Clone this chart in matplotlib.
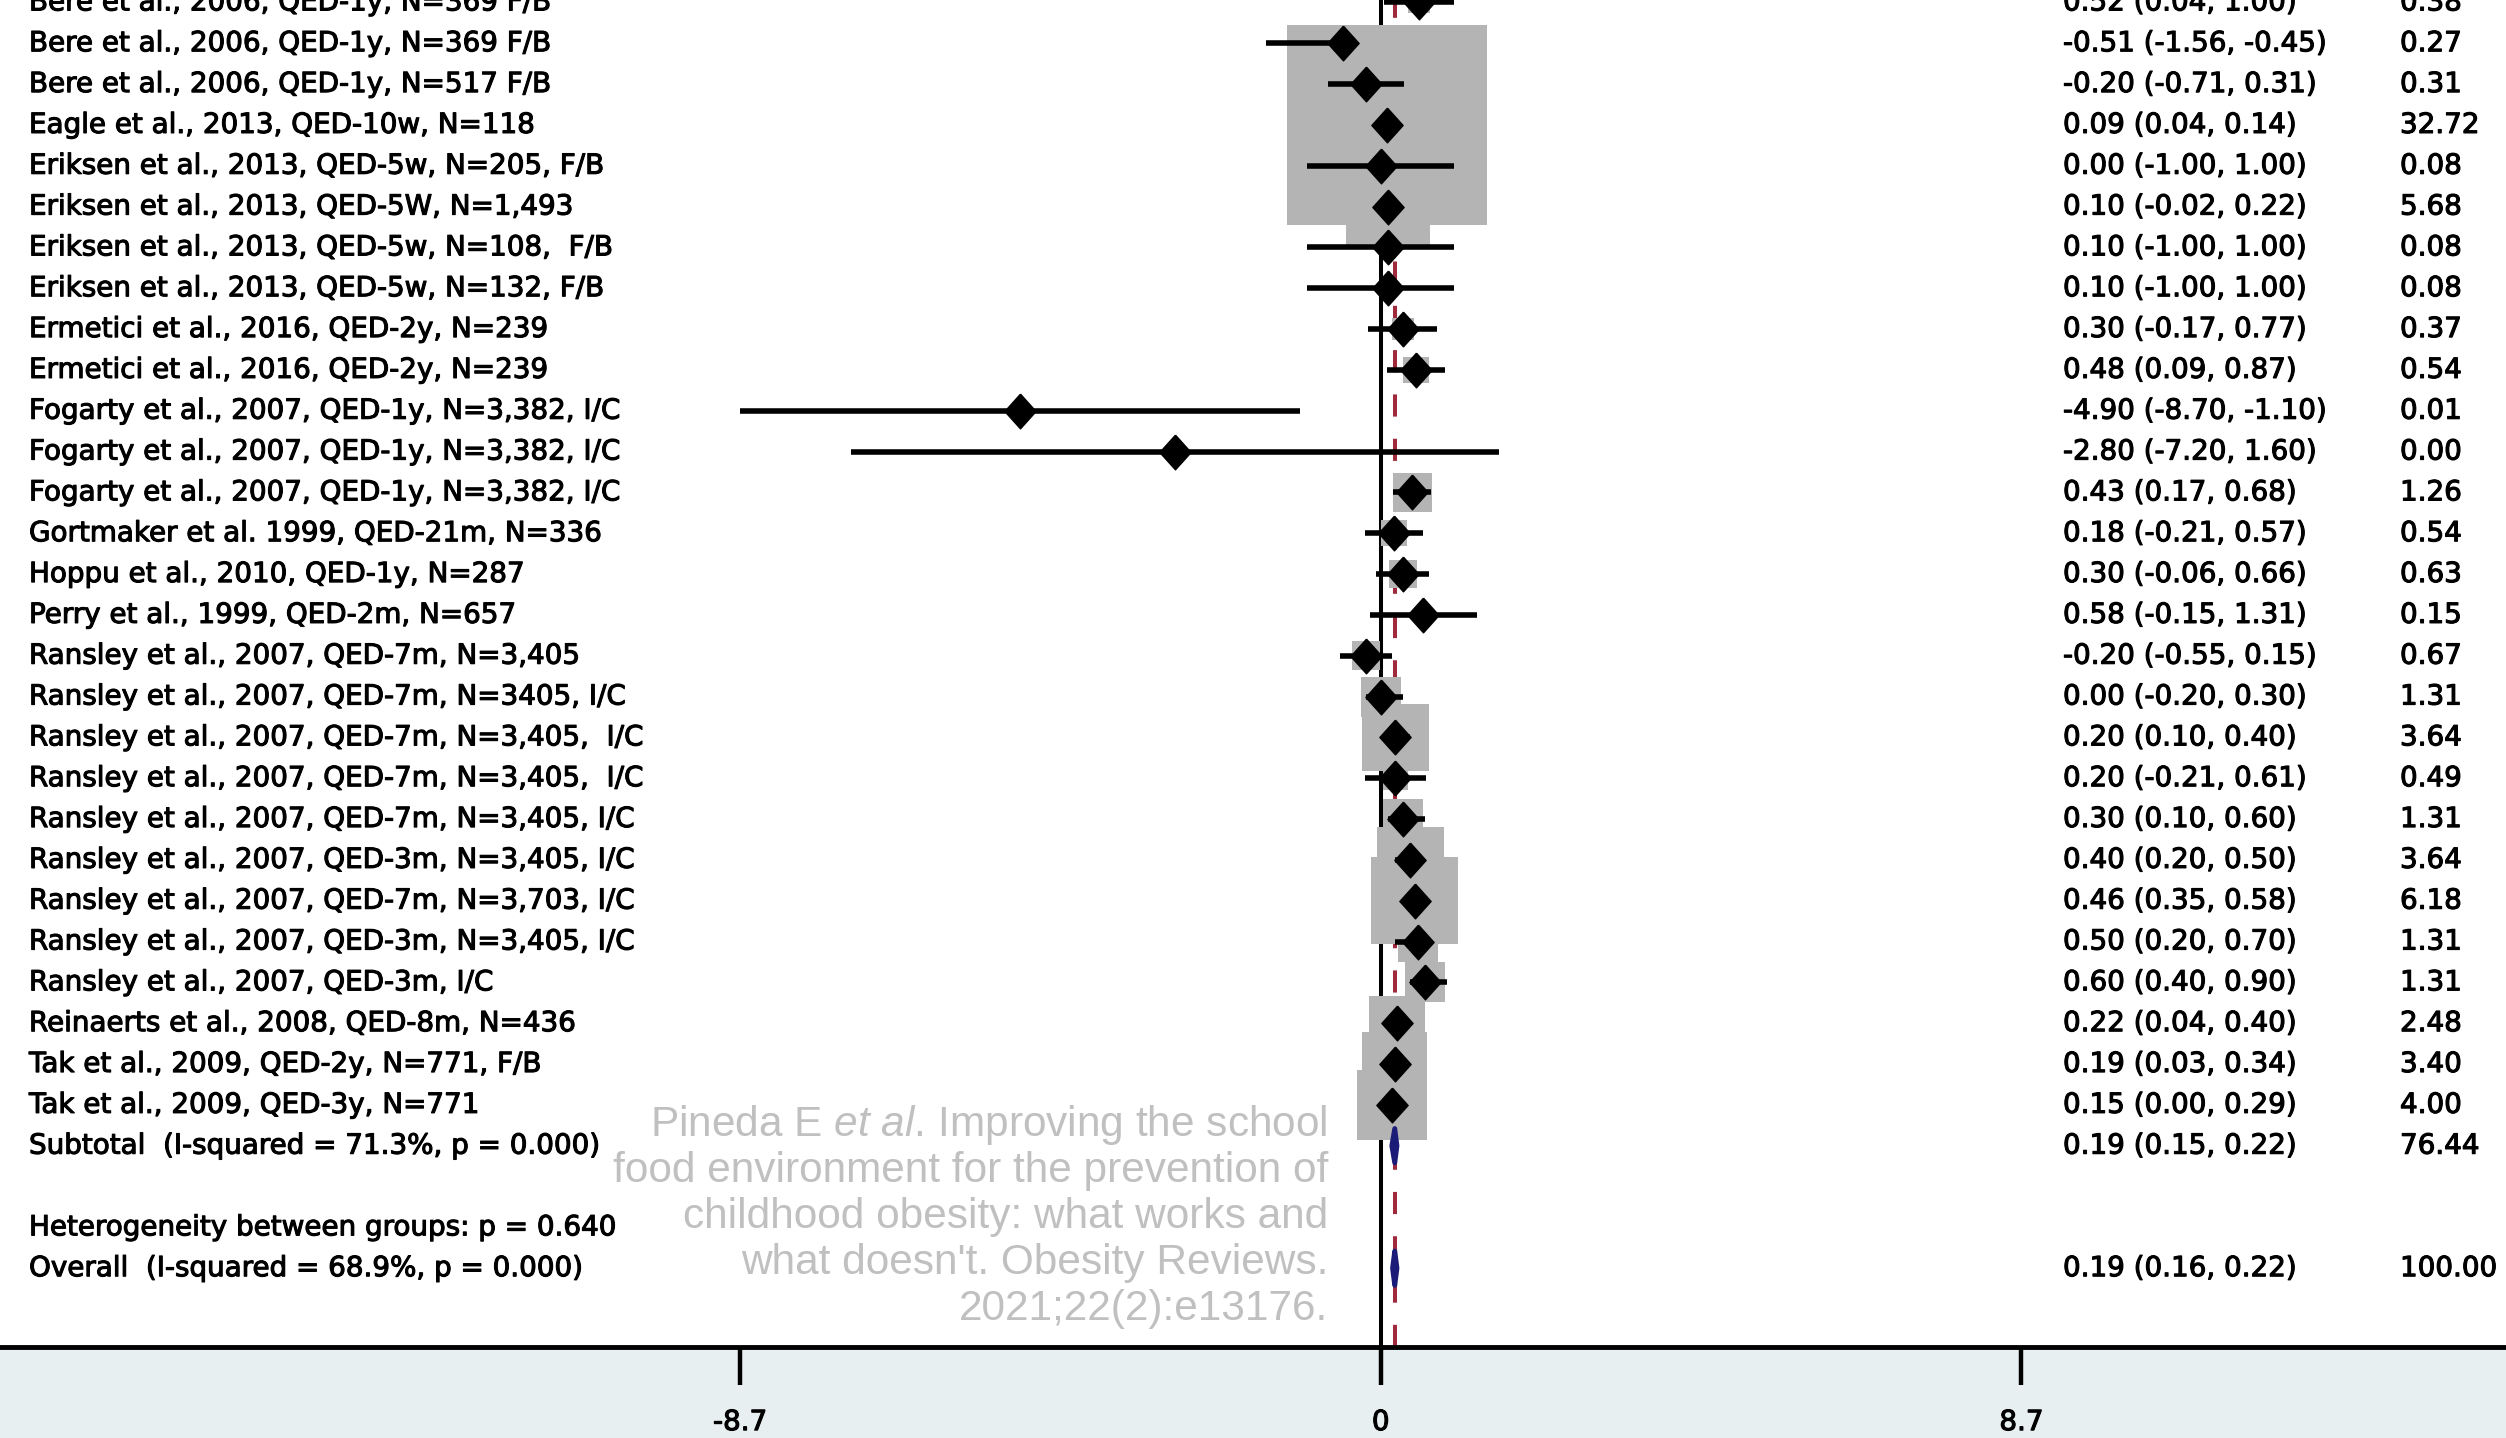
import matplotlib.pyplot as plt
import matplotlib.patheffects as pe
import numpy as np

plt.rcParams['font.family'] = ['DejaVu Sans']
plt.rcParams['mathtext.fontset'] = 'custom'
plt.rcParams['mathtext.rm'] = 'Liberation Sans'
plt.rcParams['mathtext.it'] = 'Liberation Sans:italic'

# study rows (top of the forest plot is cut off in the source picture)
studies = [
    "Bere et al., 2006, QED-1y, N=369 F/B",
    "Bere et al., 2006, QED-1y, N=369 F/B",
    "Bere et al., 2006, QED-1y, N=517 F/B",
    "Eagle et al., 2013, QED-10w, N=118",
    "Eriksen et al., 2013, QED-5w, N=205, F/B",
    "Eriksen et al., 2013, QED-5W, N=1,493",
    "Eriksen et al., 2013, QED-5w, N=108,  F/B",
    "Eriksen et al., 2013, QED-5w, N=132, F/B",
    "Ermetici et al., 2016, QED-2y, N=239",
    "Ermetici et al., 2016, QED-2y, N=239",
    "Fogarty et al., 2007, QED-1y, N=3,382, I/C",
    "Fogarty et al., 2007, QED-1y, N=3,382, I/C",
    "Fogarty et al., 2007, QED-1y, N=3,382, I/C",
    "Gortmaker et al. 1999, QED-21m, N=336",
    "Hoppu et al., 2010, QED-1y, N=287",
    "Perry et al., 1999, QED-2m, N=657",
    "Ransley et al., 2007, QED-7m, N=3,405",
    "Ransley et al., 2007, QED-7m, N=3405, I/C",
    "Ransley et al., 2007, QED-7m, N=3,405,  I/C",
    "Ransley et al., 2007, QED-7m, N=3,405,  I/C",
    "Ransley et al., 2007, QED-7m, N=3,405, I/C",
    "Ransley et al., 2007, QED-3m, N=3,405, I/C",
    "Ransley et al., 2007, QED-7m, N=3,703, I/C",
    "Ransley et al., 2007, QED-3m, N=3,405, I/C",
    "Ransley et al., 2007, QED-3m, I/C",
    "Reinaerts et al., 2008, QED-8m, N=436",
    "Tak et al., 2009, QED-2y, N=771, F/B",
    "Tak et al., 2009, QED-3y, N=771",
]
es = [0.52, -0.51, -0.20, 0.09, 0.00, 0.10, 0.10, 0.10, 0.30, 0.48,
      -4.90, -2.80, 0.43, 0.18, 0.30, 0.58, -0.20, 0.00, 0.20, 0.20,
      0.30, 0.40, 0.46, 0.50, 0.60, 0.22, 0.19, 0.15]
lo = [0.04, -1.56, -0.71, 0.04, -1.00, -0.02, -1.00, -1.00, -0.17, 0.09,
      -8.70, -7.20, 0.17, -0.21, -0.06, -0.15, -0.55, -0.20, 0.10, -0.21,
      0.10, 0.20, 0.35, 0.20, 0.40, 0.04, 0.03, 0.00]
hi = [1.00, -0.45, 0.31, 0.14, 1.00, 0.22, 1.00, 1.00, 0.77, 0.87,
      -1.10, 1.60, 0.68, 0.57, 0.66, 1.31, 0.15, 0.30, 0.40, 0.61,
      0.60, 0.50, 0.58, 0.70, 0.90, 0.40, 0.34, 0.29]
weights = [0.38, 0.27, 0.31, 32.72, 0.08, 5.68, 0.08, 0.08, 0.37, 0.54,
           0.01, 0.00, 1.26, 0.54, 0.63, 0.15, 0.67, 1.31, 3.64, 0.49,
           1.31, 3.64, 6.18, 1.31, 1.31, 2.48, 3.40, 4.00]

# pooled estimates
pooled_labels = ["Subtotal  (I-squared = 71.3%, p = 0.000)",
                 "Overall  (I-squared = 68.9%, p = 0.000)"]
pooled_es = [0.19, 0.19]
pooled_lo = [0.15, 0.16]
pooled_hi = [0.22, 0.22]
pooled_w = [76.44, 100.00]
heterogeneity = "Heterogeneity between groups: p = 0.640"

xticks = [-8.7, 0, 8.7]
xtick_labels = ["-8.7", "0", "8.7"]

citation = ["Pineda E $\\it{et\\ al}$. Improving the school",
            "food environment for the prevention of",
            "childhood obesity: what works and",
            "what doesn't. Obesity Reviews.",
            "2021;22(2):e13176."]

W, H = 2506, 1438
fig = plt.figure(figsize=(W / 100, H / 100), dpi=100, facecolor='#e8eff1')
ax = fig.add_axes([0, 91 / H, 1, 1347 / H])
ax.set_facecolor('white')
ax.set_xlim(-18.75, 15.28)
ax.set_ylim(32.93, -0.06)

rows = np.arange(len(studies))
pooled_rows = [len(studies), len(studies) + 3]

# reference lines
ax.axvline(0, color='black', lw=2.9, zorder=1)
ax.axvline(pooled_es[1], color='#a02a3c', lw=2.9, dashes=(5.5, 5.5), zorder=1)

# weight boxes (area proportional to weight)
k = 35 * 0.72
ax.scatter(es, rows, s=(k ** 2) * np.array(weights), marker='s',
           color='#b4b4b4', linewidths=0, zorder=2)

# confidence intervals and point estimates
ax.hlines(rows, lo, hi, color='black', lw=4, zorder=3)
diamond = [(0, 1), (0.9, 0), (0, -1), (-0.9, 0), (0, 1)]
ax.plot(es, rows, linestyle='none', marker=diamond, markersize=25,
        color='black', zorder=4)

# pooled diamonds
for r, e, l, h in zip(pooled_rows, pooled_es, pooled_lo, pooled_hi):
    ax.fill([l, e, h, e], [r, r - 0.42, r, r + 0.42], facecolor='#1b1b78',
            lw=3.5, edgecolor='#1b1b78', joinstyle='round', zorder=4)

# text columns
ytr = ax.get_yaxis_transform()
fs = 20
heavy = [pe.withStroke(linewidth=0.8, foreground='black')]


def put(x, r, s):
    ax.text(x / W, r, s, transform=ytr, fontsize=fs, va='center',
            path_effects=heavy)


for r, name, e, l, h, w in zip(rows, studies, es, lo, hi, weights):
    put(29, r, name)
    put(2063, r, f"{e:.2f} ({l:.2f}, {h:.2f})")
    put(2400, r, f"{w:.2f}")

for r, name, e, l, h, w in zip(pooled_rows, pooled_labels, pooled_es,
                               pooled_lo, pooled_hi, pooled_w):
    put(29, r, name)
    put(2063, r, f"{e:.2f} ({l:.2f}, {h:.2f})")
    put(2400, r, f"{w:.2f}")
put(29, len(studies) + 2, heterogeneity)

# axis styling
for side in ['top', 'left', 'right']:
    ax.spines[side].set_visible(False)
ax.spines['bottom'].set_linewidth(3.5)
ax.set_yticks([])
ax.set_xticks(xticks)
ax.set_xticklabels(xtick_labels)
ax.tick_params(axis='x', direction='out', length=27, width=3.2,
               labelsize=20, pad=17)
for t in ax.get_xticklabels():
    t.set_path_effects(heavy)

# source note
for i, line in enumerate(citation):
    fig.text(1328 / W, 1 - (1125 + 46 * i) / H, line, ha='right',
             va='center', fontsize=30.5, color='#c0c0c0',
             family='Liberation Sans')

fig.savefig('out.png', dpi=100, facecolor=fig.get_facecolor())
